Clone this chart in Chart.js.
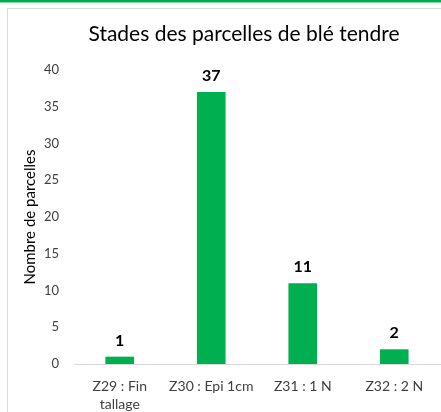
<!DOCTYPE html>
<html>
<head>
<meta charset="utf-8">
<script src="https://cdn.jsdelivr.net/npm/chart.js@4/dist/chart.umd.min.js"></script>
<style>
  body { margin: 0; background: #fff; }
  canvas { display: block; }
</style>
</head>
<body>
<canvas id="stades" width="441" height="412"></canvas>
<script>
const categories = [["Z29 : Fin", "tallage"], "Z30 : Epi 1cm", "Z31 : 1 N", "Z32 : 2 N"];
const parcelles = [1, 37, 11, 2];
const yTicks = [0, 5, 10, 15, 20, 25, 30, 35, 40];
const titre = "Stades des parcelles de blé tendre";

const police = "Lato, 'Open Sans', sans-serif";

// cadre gris, trait vert en haut, titre
const cadre = {
  id: "cadre",
  beforeDraw(chart) {
    const c = chart.ctx;
    c.save();
    c.fillStyle = "#fff";
    c.fillRect(0, 0, chart.width, chart.height);
    c.fillStyle = "#00ae50";
    c.fillRect(0, 0, chart.width, 2.5);
    c.strokeStyle = "#d9d9d9";
    c.lineWidth = 1;
    c.beginPath();
    c.moveTo(7.5, chart.height);
    c.lineTo(7.5, 8.5);
    c.lineTo(chart.width, 8.5);
    c.stroke();
    c.fillStyle = "#000";
    c.font = "21px " + police;
    c.textAlign = "center";
    c.textBaseline = "middle";
    c.fillText(titre, 244, 34);
    c.restore();
  }
};

// étiquettes de valeurs au-dessus des barres
const etiquettes = {
  id: "etiquettes",
  afterDatasetsDraw(chart) {
    const c = chart.ctx;
    const meta = chart.getDatasetMeta(0);
    c.save();
    c.fillStyle = "#000";
    c.font = "bold 16px " + police;
    c.textAlign = "center";
    c.textBaseline = "bottom";
    meta.data.forEach((bar, i) => {
      c.fillText(parcelles[i], bar.x, bar.y - 8);
    });
    c.restore();
  }
};

const ctx = document.getElementById("stades").getContext("2d");
const monGraphique = new Chart(ctx, {
  type: "bar",
  data: {
    labels: categories,
    datasets: [
      {
        label: "Nombre de parcelles",
        data: parcelles,
        backgroundColor: "#00b050",
        borderWidth: 0,
        categoryPercentage: 1,
        barPercentage: 0.313,
      },
    ],
  },
  options: {
    responsive: false,
    animation: false,
    layout: { padding: { top: 70, left: 0, right: 1, bottom: 0 } },
    plugins: {
      legend: { display: false },
      tooltip: { enabled: false },
      title: { display: false },
    },
    scales: {
      x: {
        grid: { display: false, drawTicks: false },
        border: { color: "#d9d9d9", width: 1 },
        ticks: {
          color: "#404040",
          font: { family: police, size: 14, lineHeight: 1.3 },
          padding: 13,
          maxRotation: 0,
          autoSkip: false,
        },
        afterFit(scale) {
          scale.height = 48;
        },
      },
      y: {
        min: 0,
        max: 40,
        grid: { display: false, drawTicks: false },
        border: { display: false },
        afterBuildTicks(scale) {
          scale.ticks = yTicks.map((v) => ({ value: v }));
        },
        ticks: {
          color: "#404040",
          font: { family: police, size: 13 },
          padding: 15,
        },
        title: {
          display: true,
          text: "Nombre de parcelles",
          color: "#000",
          font: { family: police, size: 15 },
          padding: { top: 21, bottom: 0 },
        },
        afterFit(scale) {
          scale.width = 74;
        },
      },
    },
  },
  plugins: [cadre, etiquettes],
});
</script>
</body>
</html>
